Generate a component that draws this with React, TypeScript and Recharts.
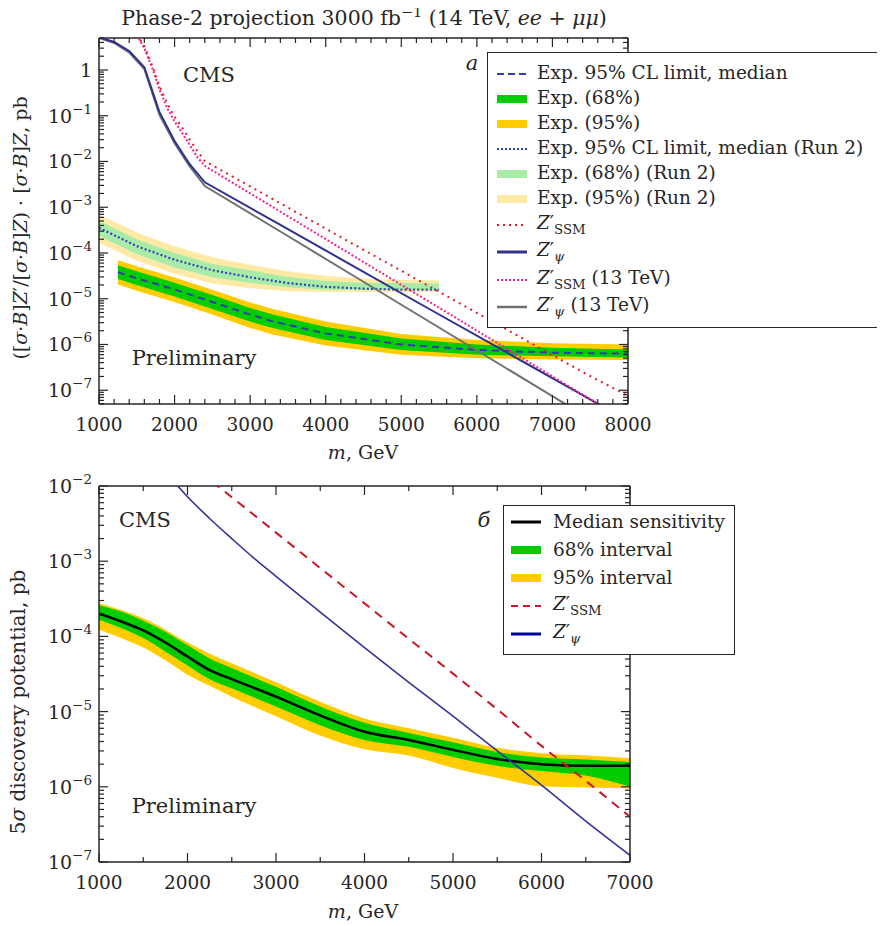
"use client";
import React from "react";
import { ComposedChart, Line, Area, XAxis, YAxis, ReferenceLine, Legend } from "recharts";

const SERIF = '"DejaVu Serif", "Liberation Serif", serif';
const INK = "#262626";

// ---------- panel a: expected 95% CL limits (pb) ----------
const massPhase2 = [1250, 1500, 2000, 2500, 3000, 3300, 4000, 5000, 6000, 7000, 8000];
const medPhase2 = [3.8e-5, 2.8e-5, 1.6e-5, 8.5e-6, 4.5e-6, 3.2e-6, 1.74e-6, 1.0e-6, 7.6e-7, 6.6e-7, 6.3e-7];
const hi95Phase2 = [6.9e-5, 5.1e-5, 2.9e-5, 1.58e-5, 8.3e-6, 6.0e-6, 3.16e-6, 1.7e-6, 1.26e-6, 1.07e-6, 1.0e-6];
const hi68Phase2 = [5.4e-5, 4.0e-5, 2.24e-5, 1.2e-5, 6.3e-6, 4.5e-6, 2.4e-6, 1.35e-6, 1.0e-6, 8.5e-7, 7.8e-7];
const lo68Phase2 = [2.7e-5, 2.0e-5, 1.12e-5, 6.0e-6, 3.16e-6, 2.3e-6, 1.26e-6, 7.6e-7, 6.0e-7, 5.5e-7, 5.2e-7];
const lo95Phase2 = [2.04e-5, 1.5e-5, 8.5e-6, 4.5e-6, 2.3e-6, 1.66e-6, 9.5e-7, 6.0e-7, 5.0e-7, 4.7e-7, 4.6e-7];

const massRun2 = [1000, 1500, 2000, 2500, 3000, 3500, 4000, 4500, 5000, 5500];
const medRun2 = [3.55e-4, 1.41e-4, 7.1e-5, 4.2e-5, 2.95e-5, 2.2e-5, 1.82e-5, 1.66e-5, 1.58e-5, 1.58e-5];
const hi95Run2 = [6.9e-4, 2.8e-4, 1.41e-4, 8.1e-5, 5.5e-5, 4.0e-5, 3.16e-5, 2.75e-5, 2.57e-5, 2.5e-5];
const hi68Run2 = [5.0e-4, 2.0e-4, 1.0e-4, 5.75e-5, 4.2e-5, 3.0e-5, 2.45e-5, 2.2e-5, 2.2e-5, 2.14e-5];
const lo68Run2 = [2.34e-4, 9.5e-5, 4.8e-5, 2.95e-5, 2.24e-5, 1.78e-5, 1.58e-5, 1.55e-5, 1.55e-5, 1.55e-5];
const lo95Run2 = [1.66e-4, 6.8e-5, 3.5e-5, 2.14e-5, 1.7e-5, 1.45e-5, 1.41e-5, 1.41e-5, 1.41e-5, 1.41e-5];

const massPsi14 = [1000, 1200, 1400, 1600, 1800, 2000, 2200, 2400, 3400, 4400, 5400, 6400, 7400, 8000];
const xsPsi14 = [5.2, 4.1, 2.6, 1.15, 0.12, 0.028, 0.0087, 0.0035, 4.1e-4, 4.8e-5, 5.6e-6, 6.6e-7, 7.8e-8, 2.1e-8];
const massPsi13 = [1000, 1200, 1400, 1600, 1800, 2000, 2200, 2400, 3400, 4400, 5400, 6400, 7400];
const xsPsi13 = [5.0, 3.9, 2.4, 1.05, 0.105, 0.025, 0.0078, 0.0029, 2.95e-4, 2.95e-5, 2.95e-6, 2.95e-7, 2.95e-8];
const massSsm14 = [1500, 1600, 1700, 1800, 1900, 2000, 2100, 2200, 2300, 2400, 3400, 4400, 5400, 6400, 7400, 8000];
const xsSsm14 = [6.0, 3.3, 1.3, 0.45, 0.19, 0.095, 0.055, 0.03, 0.017, 0.0102, 1.22e-3, 1.45e-4, 1.75e-5, 2.1e-6, 2.5e-7, 7.5e-8];
const massSsm13 = [1500, 1600, 1700, 1800, 1900, 2000, 2100, 2200, 2300, 2400, 3400, 4400, 5400, 6400, 7400, 8000];
const xsSsm13 = [5.8, 3.0, 1.15, 0.38, 0.15, 0.075, 0.042, 0.023, 0.0125, 0.008, 8e-4, 8e-5, 8e-6, 8e-7, 8e-8, 2.1e-8];

// ---------- panel b: 5 sigma discovery potential (pb) ----------
const massDisc = [1000, 1250, 1500, 1750, 2000, 2250, 2500, 3000, 3500, 4000, 4500, 5000, 5500, 6000, 6500, 7000];
const medDisc = [2.0e-4, 1.58e-4, 1.2e-4, 8.3e-5, 5.4e-5, 3.55e-5, 2.7e-5, 1.58e-5, 8.9e-6, 5.4e-6, 4.2e-6, 3.1e-6, 2.35e-6, 2.0e-6, 1.9e-6, 1.9e-6];
const hi95Disc = [2.75e-4, 2.24e-4, 1.74e-4, 1.23e-4, 8.3e-5, 5.9e-5, 4.4e-5, 2.45e-5, 1.35e-5, 8.1e-6, 6.0e-6, 4.5e-6, 3.3e-6, 2.8e-6, 2.6e-6, 2.4e-6];
const hi68Disc = [2.6e-4, 2.14e-4, 1.62e-4, 1.15e-4, 7.6e-5, 5.1e-5, 3.8e-5, 2.14e-5, 1.17e-5, 7.1e-6, 5.2e-6, 3.9e-6, 2.9e-6, 2.45e-6, 2.3e-6, 2.14e-6];
const lo68Disc = [1.66e-4, 1.29e-4, 9.5e-5, 6.3e-5, 4.1e-5, 2.7e-5, 2.04e-5, 1.17e-5, 6.6e-6, 4.2e-6, 3.4e-6, 2.5e-6, 1.9e-6, 1.62e-6, 1.41e-6, 1.0e-6];
const lo95Disc = [1.23e-4, 9.5e-5, 7.1e-5, 4.8e-5, 3.1e-5, 2.2e-5, 1.58e-5, 8.7e-6, 4.8e-6, 3.16e-6, 2.6e-6, 1.78e-6, 1.32e-6, 1.02e-6, 9.8e-7, 9.5e-7];

const massPsiB = [1800, 2000, 2250, 2500, 2750, 3000, 3500, 4000, 4500, 5000, 5500, 6000, 6500, 7000];
const xsPsiB = [1.32e-2, 7.2e-3, 3.7e-3, 2.0e-3, 1.1e-3, 6.3e-4, 2.1e-4, 7.1e-5, 2.45e-5, 8.7e-6, 3.0e-6, 1.05e-6, 3.5e-7, 1.23e-7];
const massSsmB = [2000, 2500, 3000, 3500, 4000, 4500, 5000, 5500, 6000, 6500, 7000];
const xsSsmB = [2.1e-2, 7.1e-3, 2.4e-3, 8.1e-4, 2.75e-4, 9.3e-5, 3.2e-5, 1.07e-5, 3.5e-6, 1.2e-6, 4.0e-7];

const pairs = (m: number[], v: number[]) => m.map((x, i) => ({ m: x, v: v[i] }));
const bands = (m: number[], med: number[], l68: number[], h68: number[], l95: number[], h95: number[]) =>
  m.map((x, i) => ({ m: x, med: med[i], b68: [l68[i], h68[i]], b95: [l95[i], h95[i]] }));

const rowsPhase2 = bands(massPhase2, medPhase2, lo68Phase2, hi68Phase2, lo95Phase2, hi95Phase2);
const rowsRun2 = bands(massRun2, medRun2, lo68Run2, hi68Run2, lo95Run2, hi95Run2);
const rowsDisc = bands(massDisc, medDisc, lo68Disc, hi68Disc, lo95Disc, hi95Disc);

function logTicks(lo: number, hi: number) {
  const out: number[] = [];
  for (let e = Math.floor(Math.log10(lo)); e <= Math.ceil(Math.log10(hi)); e++) {
    for (let k = 1; k <= 9; k++) {
      const v = k * Math.pow(10, e);
      if (v >= lo * 0.999 && v <= hi * 1.001) out.push(v);
    }
  }
  return out;
}
function linTicks(lo: number, hi: number, step: number) {
  const out: number[] = [];
  for (let v = lo; v <= hi; v += step) out.push(v);
  return out;
}

// ticks point inwards on all four sides, labels only on majors
const yTick = (plotW: number) => (p: any) => {
  const { x, y, payload } = p;
  const l = Math.log10(payload.value);
  const e = Math.round(l);
  const major = Math.abs(l - e) < 1e-6;
  const len = major ? 9 : 5;
  return (
    <g>
      <line x1={x} x2={x + len} y1={y} y2={y} stroke={INK} strokeWidth={1.2} />
      <line x1={x + plotW} x2={x + plotW - len} y1={y} y2={y} stroke={INK} strokeWidth={1.2} />
      {major && (
        <text x={x - 7} y={y + 7} textAnchor="end" fontFamily={SERIF} fontSize={19} fill={INK}>
          {e === 0 ? "1" : (
            <>
              <tspan>10</tspan>
              <tspan dy={-9} fontSize={13.5}>{"\u2212" + -e}</tspan>
            </>
          )}
        </text>
      )}
    </g>
  );
};
const xTick = (plotH: number) => (p: any) => {
  const { x, y, payload } = p;
  const major = payload.value % 1000 === 0;
  const len = major ? 9 : 5;
  return (
    <g>
      <line x1={x} x2={x} y1={y} y2={y - len} stroke={INK} strokeWidth={1.2} />
      <line x1={x} x2={x} y1={y - plotH} y2={y - plotH + len} stroke={INK} strokeWidth={1.2} />
      {major && (
        <text x={x} y={y + 27} textAnchor="middle" fontFamily={SERIF} fontSize={18.5} fill={INK}>
          {payload.value}
        </text>
      )}
    </g>
  );
};

type Item = { label: React.ReactNode; color: string; w: number; dash?: string; h?: number };
const Zp = ({ sub }: { sub: React.ReactNode }) => (
  <span>
    <i>Z</i>′<sub style={{ fontSize: "0.72em", verticalAlign: "-0.35em" }}>{sub}</sub>
  </span>
);

const itemsA: Item[] = [
  { label: "Exp. 95% CL limit, median", color: "#3a3aa8", w: 2, dash: "7 4" },
  { label: "Exp. (68%)", color: "#00cc00", w: 8 },
  { label: "Exp. (95%)", color: "#ffcc00", w: 8 },
  { label: "Exp. 95% CL limit, median (Run 2)", color: "#3344bb", w: 2, dash: "2 2" },
  { label: "Exp. (68%) (Run 2)", color: "#a8eca8", w: 8 },
  { label: "Exp. (95%) (Run 2)", color: "#feeaa6", w: 8 },
  { label: <Zp sub="SSM" />, color: "#dd2027", w: 2, dash: "2 4", h: 27.5 },
  { label: <Zp sub={<i>ψ</i>} />, color: "#2e3192", w: 3, h: 27.5 },
  { label: <span><Zp sub="SSM" /> (13 TeV)</span>, color: "#ff1e8c", w: 2, dash: "2 2", h: 27.5 },
  { label: <span><Zp sub={<i>ψ</i>} /> (13 TeV)</span>, color: "#707070", w: 2.5, h: 27.5 },
];
const itemsB: Item[] = [
  { label: "Median sensitivity", color: "#000000", w: 3, h: 28 },
  { label: "68% interval", color: "#00cc00", w: 8, h: 28 },
  { label: "95% interval", color: "#ffcc00", w: 8, h: 28 },
  { label: <Zp sub="SSM" />, color: "#cc1526", w: 2, dash: "7 5", h: 28 },
  { label: <Zp sub={<i>ψ</i>} />, color: "#000099", w: 3, h: 28 },
];

const LegendBox = ({ items, padTop, swX, txtX }: { items: Item[]; padTop: number; swX: number; txtX: number }) => (
  <div
    style={{
      boxSizing: "border-box",
      width: "100%",
      height: "100%",
      border: `1.5px solid ${INK}`,
      background: "#fff",
      paddingTop: padTop,
      fontFamily: SERIF,
      fontSize: 18.5,
      color: INK,
    }}
  >
    {items.map((it, i) => (
      <div key={i} style={{ position: "relative", height: it.h ?? 25, display: "flex", alignItems: "center" }}>
        <svg width={30} height={12} style={{ position: "absolute", left: swX }}>
          <line x1={0} x2={30} y1={6} y2={6} stroke={it.color} strokeWidth={it.w} strokeDasharray={it.dash} />
        </svg>
        <div style={{ position: "absolute", left: txtX, whiteSpace: "nowrap", lineHeight: 1 }}>{it.label}</div>
      </div>
    ))}
  </div>
);

const Note = ({ x, y, size = 18, italic, rotate, children }: any) => (
  <div
    style={{
      position: "absolute",
      left: x - 8,
      top: y - 8,
      transform: `translate(-50%, -50%)${rotate ? " rotate(-90deg)" : ""}`,
      whiteSpace: "nowrap",
      fontSize: size,
      fontStyle: italic ? "italic" : "normal",
      lineHeight: 1,
      fontFamily: SERIF,
      color: INK,
    }}
  >
    {children}
  </div>
);

const W = 877;
const A_PLOT_W = 529;
const A_PLOT_H = 366;
const B_PLOT_W = 531;
const B_PLOT_H = 376;

export default function App() {
  return (
    <div style={{ position: "relative", width: W, height: 918, fontFamily: SERIF }}>
      <div style={{ position: "absolute", left: 0, top: 0 }}>
        <ComposedChart width={W} height={460} margin={{ top: 30, right: 257, bottom: 34, left: 31 }}>
          <XAxis
            type="number"
            dataKey="m"
            domain={[1000, 8000]}
            allowDataOverflow
            ticks={linTicks(1000, 8000, 200)}
            interval={0}
            tickSize={0}
            tickMargin={0}
            height={30}
            tick={xTick(A_PLOT_H)}
            axisLine={{ stroke: INK, strokeWidth: 1.5 }}
            tickLine={false}
          />
          <YAxis
            type="number"
            scale="log"
            domain={[5e-8, 5]}
            allowDataOverflow
            ticks={logTicks(5e-8, 5)}
            interval={0}
            tickSize={0}
            tickMargin={0}
            width={60}
            tick={yTick(A_PLOT_W)}
            axisLine={{ stroke: INK, strokeWidth: 1.5 }}
            tickLine={false}
          />
          <ReferenceLine y={5} stroke={INK} strokeWidth={1.5} />
          <ReferenceLine x={8000} stroke={INK} strokeWidth={1.5} />

          <Area data={rowsRun2} dataKey="b95" type="linear" stroke="none" fill="#feeaa6" fillOpacity={1} isAnimationActive={false} />
          <Area data={rowsRun2} dataKey="b68" type="linear" stroke="none" fill="#a8eca8" fillOpacity={1} isAnimationActive={false} />
          <Line data={rowsRun2} dataKey="med" type="linear" stroke="#3344bb" strokeWidth={2.2} strokeDasharray="2 2.2" dot={false} isAnimationActive={false} />
          <Area data={rowsPhase2} dataKey="b95" type="linear" stroke="none" fill="#ffcc00" fillOpacity={1} isAnimationActive={false} />
          <Area data={rowsPhase2} dataKey="b68" type="linear" stroke="none" fill="#00cc00" fillOpacity={1} isAnimationActive={false} />
          <Line data={rowsPhase2} dataKey="med" type="linear" stroke="#3a3aa8" strokeWidth={2} strokeDasharray="7 5" dot={false} isAnimationActive={false} />

          <Line data={pairs(massPsi13, xsPsi13)} dataKey="v" type="linear" stroke="#707070" strokeWidth={2} dot={false} isAnimationActive={false} />
          <Line data={pairs(massPsi14, xsPsi14)} dataKey="v" type="linear" stroke="#2e3192" strokeWidth={2} dot={false} isAnimationActive={false} />
          <Line data={pairs(massSsm13, xsSsm13)} dataKey="v" type="linear" stroke="#ff1e8c" strokeWidth={2} strokeDasharray="2 2" dot={false} isAnimationActive={false} />
          <Line data={pairs(massSsm14, xsSsm14)} dataKey="v" type="linear" stroke="#dd2027" strokeWidth={2} strokeDasharray="2 4.5" dot={false} isAnimationActive={false} />

          <Legend
            layout="vertical"
            align="center"
            verticalAlign="middle"
            wrapperStyle={{ left: 479, top: 44, width: 396, height: 276 }}
            content={() => <LegendBox items={itemsA} padTop={8} swX={9} txtX={49} />}
          />
        </ComposedChart>
      </div>

      <div style={{ position: "absolute", left: 0, top: 460 }}>
        <ComposedChart width={W} height={450} margin={{ top: 18, right: 255, bottom: 26, left: 31 }}>
          <XAxis
            type="number"
            dataKey="m"
            domain={[1000, 7000]}
            allowDataOverflow
            ticks={linTicks(1000, 7000, 500)}
            interval={0}
            tickSize={0}
            tickMargin={0}
            height={30}
            tick={xTick(B_PLOT_H)}
            axisLine={{ stroke: INK, strokeWidth: 1.5 }}
            tickLine={false}
          />
          <YAxis
            type="number"
            scale="log"
            domain={[1e-7, 1e-2]}
            allowDataOverflow
            ticks={logTicks(1e-7, 1e-2)}
            interval={0}
            tickSize={0}
            tickMargin={0}
            width={60}
            tick={yTick(B_PLOT_W)}
            axisLine={{ stroke: INK, strokeWidth: 1.5 }}
            tickLine={false}
          />
          <ReferenceLine y={1e-2} stroke={INK} strokeWidth={1.5} />
          <ReferenceLine x={7000} stroke={INK} strokeWidth={1.5} />

          <Area data={rowsDisc} dataKey="b95" type="monotone" stroke="none" fill="#ffcc00" fillOpacity={1} isAnimationActive={false} />
          <Area data={rowsDisc} dataKey="b68" type="monotone" stroke="none" fill="#00cc00" fillOpacity={1} isAnimationActive={false} />
          <Line data={rowsDisc} dataKey="med" type="monotone" stroke="#000000" strokeWidth={2.5} dot={false} isAnimationActive={false} />
          <Line data={pairs(massPsiB, xsPsiB)} dataKey="v" type="monotone" stroke="#33339a" strokeWidth={1.6} dot={false} isAnimationActive={false} />
          <Line data={pairs(massSsmB, xsSsmB)} dataKey="v" type="monotone" stroke="#cc1526" strokeWidth={2} strokeDasharray="9 7" dot={false} isAnimationActive={false} />

          <Legend
            layout="vertical"
            align="center"
            verticalAlign="middle"
            wrapperStyle={{ left: 495, top: 37, width: 232, height: 150 }}
            content={() => <LegendBox items={itemsB} padTop={2} swX={7} txtX={49} />}
          />
        </ComposedChart>
      </div>

      <Note x={364} y={17} size={20.5}>
        Phase-2 projection 3000 fb<sup style={{ fontSize: "0.7em" }}>−1</sup> (14 TeV, <i>ee</i> + <i>μμ</i>)
      </Note>
      <Note x={209} y={75} size={21}>CMS</Note>
      <Note x={194} y={358} size={21}>Preliminary</Note>
      <Note x={472} y={63} size={21} italic>a</Note>
      <Note x={363} y={452} size={19}><i>m</i>, GeV</Note>
      <Note x={20} y={228} size={19} rotate>
        ([<i>σ</i>·<i>B</i>]<i>Z</i>′/[<i>σ</i>·<i>B</i>]<i>Z</i>) · [<i>σ</i>·<i>B</i>]<i>Z</i>, pb
      </Note>

      <Note x={145} y={520} size={21}>CMS</Note>
      <Note x={194} y={806} size={21}>Preliminary</Note>
      <Note x={484} y={520} size={21} italic>б</Note>
      <Note x={363} y={911} size={19}><i>m</i>, GeV</Note>
      <Note x={18} y={702} size={20} rotate>
        5<i>σ</i> discovery potential, pb
      </Note>
    </div>
  );
}
